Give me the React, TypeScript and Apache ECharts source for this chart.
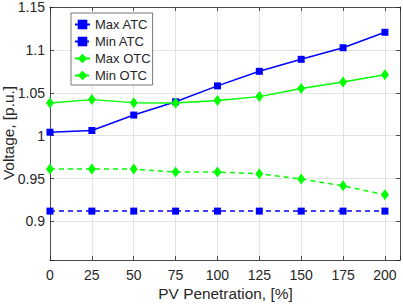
import React, { useEffect, useRef } from "react";
import * as echarts from "echarts";

const penetration = [0, 25, 50, 75, 100, 125, 150, 175, 200];
const maxATC = [1.004, 1.006, 1.024, 1.0395, 1.058, 1.075, 1.089, 1.1025, 1.1205];
const minATC = [0.912, 0.912, 0.912, 0.912, 0.912, 0.912, 0.912, 0.912, 0.912];
const maxOTC = [1.038, 1.042, 1.0385, 1.038, 1.041, 1.0455, 1.055, 1.0625, 1.071];
const minOTC = [0.961, 0.961, 0.961, 0.9575, 0.9575, 0.9555, 0.9495, 0.9415, 0.931];
const seriesNames = ["Max ATC", "Min ATC", "Max OTC", "Min OTC"];
const xTitle = "PV Penetration, [%]";
const yTitle = "Voltage, [p.u.]";

const FONT = "'Liberation Sans', Arial, Helvetica, sans-serif";
const AXIS = "#262626";
const GRID = "#e3e3e3";
const BLUE = "#0000ff";
const GREEN = "#00ff00";

function pairs(ys: number[]) {
  return penetration.map((x, i) => [x, ys[i]]);
}

export default function App() {
  const ref = useRef<HTMLDivElement>(null);
  useEffect(() => {
    if (!ref.current) return;
    const chart = echarts.init(ref.current, undefined, { renderer: "svg" });
    const axisLineStyle = { color: AXIS, width: 0.8 };
    const mk = (name: string, ys: number[], color: string, dashed: boolean, symbol: string, size: any) => ({
      name,
      type: "line",
      data: pairs(ys),
      symbol,
      symbolSize: size,
      showSymbol: true,
      lineStyle: { color, width: 1.5, type: dashed ? [5, 4] : "solid" },
      itemStyle: { color, borderWidth: 0 },
      xAxisIndex: 0,
      yAxisIndex: 0,
    });
    chart.setOption({
      animation: false,
      backgroundColor: "#ffffff",
      grid: { left: 50, right: 2, top: 5, bottom: 44, containLabel: false },
      textStyle: { fontFamily: FONT },
      legend: {
        data: seriesNames,
        orient: "vertical",
        left: 71,
        top: 13,
        padding: [5, 2, 3, 3],
        itemWidth: 15,
        itemHeight: 12,
        itemGap: 4,
        backgroundColor: "#ffffff",
        borderColor: "#555555",
        borderWidth: 0.8,
        textStyle: { fontFamily: FONT, fontSize: 13, color: AXIS, padding: 0, height: 12, lineHeight: 12 },
      },
      xAxis: [
        {
          type: "value",
          min: 0,
          max: 209,
          interval: 25,
          position: "bottom",
          axisLine: { show: true, onZero: false, lineStyle: axisLineStyle },
          axisTick: { show: true, inside: true, length: 4, lineStyle: axisLineStyle },
          axisLabel: {
            color: AXIS,
            fontSize: 14,
            fontFamily: FONT,
            margin: 8,
            formatter: (v: number) => (Math.abs(v % 25) < 1e-6 ? String(v) : ""),
          },
          splitLine: { show: true, lineStyle: { color: GRID, width: 1 } },
        },
        {
          type: "value",
          min: 0,
          max: 209,
          interval: 25,
          position: "top",
          axisLine: { show: true, onZero: false, lineStyle: axisLineStyle },
          axisTick: { show: true, inside: true, length: 4, lineStyle: axisLineStyle },
          axisLabel: { show: false },
          splitLine: { show: false },
        },
      ],
      yAxis: [
        {
          type: "value",
          min: 0.855,
          max: 1.15,
          splitNumber: 5,
          position: "left",
          axisLine: { show: true, onZero: false, lineStyle: axisLineStyle },
          axisTick: { show: true, inside: true, length: 4, lineStyle: axisLineStyle },
          axisLabel: {
            color: AXIS,
            fontSize: 14,
            fontFamily: FONT,
            margin: 5,
            showMinLabel: true,
            formatter: (v: number) => {
              const r = Math.round(v * 20);
              if (Math.abs(v * 20 - r) > 1e-6) return "";
              return String(+(r / 20).toFixed(2));
            },
          },
          splitLine: { show: true, lineStyle: { color: GRID, width: 1 } },
        },
        {
          type: "value",
          min: 0.855,
          max: 1.15,
          splitNumber: 5,
          position: "right",
          axisLine: { show: true, onZero: false, lineStyle: axisLineStyle },
          axisTick: { show: true, inside: true, length: 4, lineStyle: axisLineStyle },
          axisLabel: { show: false },
          splitLine: { show: false },
        },
      ],
      graphic: [
        {
          type: "text",
          x: 225.5,
          y: 293,
          style: {
            text: xTitle,
            fontSize: 15.4,
            fontFamily: FONT,
            fill: AXIS,
            textAlign: "center",
            textVerticalAlign: "middle",
          },
        },
        {
          type: "text",
          x: 8,
          y: 133,
          rotation: Math.PI / 2,
          style: {
            text: yTitle,
            fontSize: 15.4,
            fontFamily: FONT,
            fill: AXIS,
            textAlign: "center",
            textVerticalAlign: "middle",
          },
        },
      ],
      series: [
        mk(seriesNames[0], maxATC, BLUE, false, "rect", 7),
        mk(seriesNames[1], minATC, BLUE, true, "rect", 7),
        mk(seriesNames[2], maxOTC, GREEN, false, "diamond", [8, 11]),
        mk(seriesNames[3], minOTC, GREEN, true, "diamond", [8, 11]),
      ],
    });
    return () => chart.dispose();
  }, []);
  return <div ref={ref} style={{ width: 403, height: 304, position: "absolute", left: 0, top: 0 }} />;
}
